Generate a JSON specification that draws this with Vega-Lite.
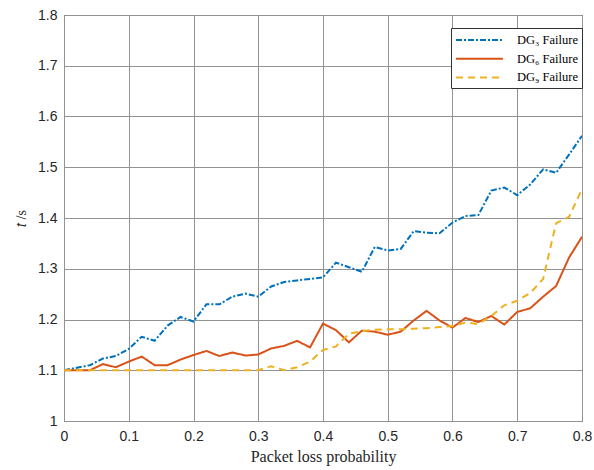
{
  "$schema": "https://vega.github.io/schema/vega-lite/v6.json",
  "autosize": "none",
  "padding": {"left": 64, "top": 15, "right": 12, "bottom": 49},
  "width": 518,
  "height": 406,
  "background": "white",
  "config": {
    "view": {"stroke": "#262626", "strokeWidth": 1},
    "axis": {
      "grid": true,
      "gridColor": "#939393",
      "gridWidth": 1,
      "domain": false,
      "ticks": false,
      "labelFont": "Liberation Sans",
      "labelFontSize": 14,
      "labelColor": "#262626",
      "titleFont": "Liberation Serif",
      "titleFontWeight": "normal",
      "titleFontSize": 16,
      "titleColor": "#262626",
      "format": "~g"
    }
  },
  "data": {
    "values": [
      {"p": 0.00, "t": 1.100, "s": "DG₃ Failure"},
      {"p": 0.02, "t": 1.105, "s": "DG₃ Failure"},
      {"p": 0.04, "t": 1.110, "s": "DG₃ Failure"},
      {"p": 0.06, "t": 1.123, "s": "DG₃ Failure"},
      {"p": 0.08, "t": 1.128, "s": "DG₃ Failure"},
      {"p": 0.10, "t": 1.142, "s": "DG₃ Failure"},
      {"p": 0.12, "t": 1.166, "s": "DG₃ Failure"},
      {"p": 0.14, "t": 1.158, "s": "DG₃ Failure"},
      {"p": 0.16, "t": 1.188, "s": "DG₃ Failure"},
      {"p": 0.18, "t": 1.205, "s": "DG₃ Failure"},
      {"p": 0.20, "t": 1.196, "s": "DG₃ Failure"},
      {"p": 0.22, "t": 1.230, "s": "DG₃ Failure"},
      {"p": 0.24, "t": 1.230, "s": "DG₃ Failure"},
      {"p": 0.26, "t": 1.245, "s": "DG₃ Failure"},
      {"p": 0.28, "t": 1.251, "s": "DG₃ Failure"},
      {"p": 0.30, "t": 1.245, "s": "DG₃ Failure"},
      {"p": 0.32, "t": 1.265, "s": "DG₃ Failure"},
      {"p": 0.34, "t": 1.274, "s": "DG₃ Failure"},
      {"p": 0.36, "t": 1.277, "s": "DG₃ Failure"},
      {"p": 0.38, "t": 1.280, "s": "DG₃ Failure"},
      {"p": 0.40, "t": 1.283, "s": "DG₃ Failure"},
      {"p": 0.42, "t": 1.312, "s": "DG₃ Failure"},
      {"p": 0.44, "t": 1.303, "s": "DG₃ Failure"},
      {"p": 0.46, "t": 1.294, "s": "DG₃ Failure"},
      {"p": 0.48, "t": 1.343, "s": "DG₃ Failure"},
      {"p": 0.50, "t": 1.336, "s": "DG₃ Failure"},
      {"p": 0.52, "t": 1.339, "s": "DG₃ Failure"},
      {"p": 0.54, "t": 1.374, "s": "DG₃ Failure"},
      {"p": 0.56, "t": 1.371, "s": "DG₃ Failure"},
      {"p": 0.58, "t": 1.370, "s": "DG₃ Failure"},
      {"p": 0.60, "t": 1.391, "s": "DG₃ Failure"},
      {"p": 0.62, "t": 1.404, "s": "DG₃ Failure"},
      {"p": 0.64, "t": 1.406, "s": "DG₃ Failure"},
      {"p": 0.66, "t": 1.454, "s": "DG₃ Failure"},
      {"p": 0.68, "t": 1.460, "s": "DG₃ Failure"},
      {"p": 0.70, "t": 1.445, "s": "DG₃ Failure"},
      {"p": 0.72, "t": 1.466, "s": "DG₃ Failure"},
      {"p": 0.74, "t": 1.496, "s": "DG₃ Failure"},
      {"p": 0.76, "t": 1.489, "s": "DG₃ Failure"},
      {"p": 0.78, "t": 1.525, "s": "DG₃ Failure"},
      {"p": 0.80, "t": 1.562, "s": "DG₃ Failure"},
      {"p": 0.00, "t": 1.100, "s": "DG₆ Failure"},
      {"p": 0.02, "t": 1.100, "s": "DG₆ Failure"},
      {"p": 0.04, "t": 1.100, "s": "DG₆ Failure"},
      {"p": 0.06, "t": 1.112, "s": "DG₆ Failure"},
      {"p": 0.08, "t": 1.106, "s": "DG₆ Failure"},
      {"p": 0.10, "t": 1.117, "s": "DG₆ Failure"},
      {"p": 0.12, "t": 1.127, "s": "DG₆ Failure"},
      {"p": 0.14, "t": 1.110, "s": "DG₆ Failure"},
      {"p": 0.16, "t": 1.110, "s": "DG₆ Failure"},
      {"p": 0.18, "t": 1.121, "s": "DG₆ Failure"},
      {"p": 0.20, "t": 1.130, "s": "DG₆ Failure"},
      {"p": 0.22, "t": 1.138, "s": "DG₆ Failure"},
      {"p": 0.24, "t": 1.128, "s": "DG₆ Failure"},
      {"p": 0.26, "t": 1.135, "s": "DG₆ Failure"},
      {"p": 0.28, "t": 1.129, "s": "DG₆ Failure"},
      {"p": 0.30, "t": 1.131, "s": "DG₆ Failure"},
      {"p": 0.32, "t": 1.143, "s": "DG₆ Failure"},
      {"p": 0.34, "t": 1.148, "s": "DG₆ Failure"},
      {"p": 0.36, "t": 1.158, "s": "DG₆ Failure"},
      {"p": 0.38, "t": 1.145, "s": "DG₆ Failure"},
      {"p": 0.40, "t": 1.192, "s": "DG₆ Failure"},
      {"p": 0.42, "t": 1.179, "s": "DG₆ Failure"},
      {"p": 0.44, "t": 1.155, "s": "DG₆ Failure"},
      {"p": 0.46, "t": 1.178, "s": "DG₆ Failure"},
      {"p": 0.48, "t": 1.176, "s": "DG₆ Failure"},
      {"p": 0.50, "t": 1.170, "s": "DG₆ Failure"},
      {"p": 0.52, "t": 1.176, "s": "DG₆ Failure"},
      {"p": 0.54, "t": 1.198, "s": "DG₆ Failure"},
      {"p": 0.56, "t": 1.217, "s": "DG₆ Failure"},
      {"p": 0.58, "t": 1.198, "s": "DG₆ Failure"},
      {"p": 0.60, "t": 1.184, "s": "DG₆ Failure"},
      {"p": 0.62, "t": 1.203, "s": "DG₆ Failure"},
      {"p": 0.64, "t": 1.195, "s": "DG₆ Failure"},
      {"p": 0.66, "t": 1.207, "s": "DG₆ Failure"},
      {"p": 0.68, "t": 1.190, "s": "DG₆ Failure"},
      {"p": 0.70, "t": 1.215, "s": "DG₆ Failure"},
      {"p": 0.72, "t": 1.222, "s": "DG₆ Failure"},
      {"p": 0.74, "t": 1.245, "s": "DG₆ Failure"},
      {"p": 0.76, "t": 1.266, "s": "DG₆ Failure"},
      {"p": 0.78, "t": 1.322, "s": "DG₆ Failure"},
      {"p": 0.80, "t": 1.363, "s": "DG₆ Failure"},
      {"p": 0.00, "t": 1.100, "s": "DG₉ Failure"},
      {"p": 0.02, "t": 1.100, "s": "DG₉ Failure"},
      {"p": 0.04, "t": 1.100, "s": "DG₉ Failure"},
      {"p": 0.06, "t": 1.100, "s": "DG₉ Failure"},
      {"p": 0.08, "t": 1.100, "s": "DG₉ Failure"},
      {"p": 0.10, "t": 1.100, "s": "DG₉ Failure"},
      {"p": 0.12, "t": 1.100, "s": "DG₉ Failure"},
      {"p": 0.14, "t": 1.100, "s": "DG₉ Failure"},
      {"p": 0.16, "t": 1.100, "s": "DG₉ Failure"},
      {"p": 0.18, "t": 1.100, "s": "DG₉ Failure"},
      {"p": 0.20, "t": 1.100, "s": "DG₉ Failure"},
      {"p": 0.22, "t": 1.100, "s": "DG₉ Failure"},
      {"p": 0.24, "t": 1.100, "s": "DG₉ Failure"},
      {"p": 0.26, "t": 1.100, "s": "DG₉ Failure"},
      {"p": 0.28, "t": 1.100, "s": "DG₉ Failure"},
      {"p": 0.30, "t": 1.100, "s": "DG₉ Failure"},
      {"p": 0.32, "t": 1.108, "s": "DG₉ Failure"},
      {"p": 0.34, "t": 1.100, "s": "DG₉ Failure"},
      {"p": 0.36, "t": 1.106, "s": "DG₉ Failure"},
      {"p": 0.38, "t": 1.117, "s": "DG₉ Failure"},
      {"p": 0.40, "t": 1.140, "s": "DG₉ Failure"},
      {"p": 0.42, "t": 1.147, "s": "DG₉ Failure"},
      {"p": 0.44, "t": 1.172, "s": "DG₉ Failure"},
      {"p": 0.46, "t": 1.177, "s": "DG₉ Failure"},
      {"p": 0.48, "t": 1.180, "s": "DG₉ Failure"},
      {"p": 0.50, "t": 1.181, "s": "DG₉ Failure"},
      {"p": 0.52, "t": 1.181, "s": "DG₉ Failure"},
      {"p": 0.54, "t": 1.182, "s": "DG₉ Failure"},
      {"p": 0.56, "t": 1.183, "s": "DG₉ Failure"},
      {"p": 0.58, "t": 1.185, "s": "DG₉ Failure"},
      {"p": 0.60, "t": 1.187, "s": "DG₉ Failure"},
      {"p": 0.62, "t": 1.194, "s": "DG₉ Failure"},
      {"p": 0.64, "t": 1.191, "s": "DG₉ Failure"},
      {"p": 0.66, "t": 1.207, "s": "DG₉ Failure"},
      {"p": 0.68, "t": 1.228, "s": "DG₉ Failure"},
      {"p": 0.70, "t": 1.237, "s": "DG₉ Failure"},
      {"p": 0.72, "t": 1.252, "s": "DG₉ Failure"},
      {"p": 0.74, "t": 1.280, "s": "DG₉ Failure"},
      {"p": 0.76, "t": 1.390, "s": "DG₉ Failure"},
      {"p": 0.78, "t": 1.402, "s": "DG₉ Failure"},
      {"p": 0.80, "t": 1.457, "s": "DG₉ Failure"}
    ]
  },
  "mark": {"type": "line", "strokeWidth": 2, "clip": true},
  "encoding": {
    "x": {
      "field": "p", "type": "quantitative",
      "scale": {"domain": [0, 0.8], "nice": false},
      "axis": {"values": [0, 0.1, 0.2, 0.3, 0.4, 0.5, 0.6, 0.7, 0.8], "labelPadding": 8, "titlePadding": 5, "title": "Packet loss probability", "labelFlush": false}
    },
    "y": {
      "field": "t", "type": "quantitative",
      "scale": {"domain": [1, 1.8], "nice": false, "zero": false},
      "axis": {"values": [1, 1.1, 1.2, 1.3, 1.4, 1.5, 1.6, 1.7, 1.8], "labelPadding": 7, "title": "𝑡   /s", "titleFontSize": 14, "titlePadding": 9, "labelFlush": false}
    },
    "color": {
      "field": "s", "type": "nominal",
      "scale": {"domain": ["DG₃ Failure", "DG₆ Failure", "DG₉ Failure"], "range": ["#0072BD", "#D95319", "#EDB120"]},
      "legend": {
        "title": null, "orient": "none", "legendX": 387, "legendY": 13,
        "labelFont": "Liberation Serif", "labelFontSize": 12.5, "labelColor": "#000",
        "strokeColor": "#333", "fillColor": "white", "padding": 4,
        "symbolType": "M-1,0H5.7", "symbolSize": 196, "symbolStrokeWidth": 2, "symbolFillColor": "transparent",
        "rowPadding": 3.7, "labelOffset": 46, "offset": 0
      }
    },
    "strokeDash": {
      "field": "s", "type": "nominal",
      "scale": {"domain": ["DG₃ Failure", "DG₆ Failure", "DG₉ Failure"], "range": [[6, 2, 2, 2], [1, 0], [7, 5]]},
      "legend": {
        "title": null, "orient": "none", "legendX": 387, "legendY": 13,
        "labelFont": "Liberation Serif", "labelFontSize": 12.5, "labelColor": "#000",
        "strokeColor": "#333", "fillColor": "white", "padding": 4,
        "symbolType": "M-1,0H5.7", "symbolSize": 196, "symbolStrokeWidth": 2, "symbolFillColor": "transparent",
        "rowPadding": 3.7, "labelOffset": 46, "offset": 0
      }
    }
  }
}
